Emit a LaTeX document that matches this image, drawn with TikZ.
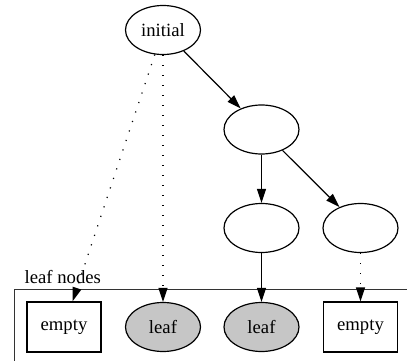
\documentclass[tikz,border=0pt]{standalone}
\usepackage{fontspec}
\setmainfont{Liberation Serif}
\usetikzlibrary{arrows.meta,shapes.geometric}
\begin{document}
\begin{tikzpicture}[x=1pt,y=-1pt,
  every node/.style={font=\fontsize{18.7}{22}\selectfont, line width=1.2pt, inner sep=0pt},
  oval/.style={draw, ellipse, minimum width=75pt, minimum height=49pt},
  leafoval/.style={oval, fill=lightgray!90!white},
  emptybox/.style={draw, rectangle, minimum width=74pt, minimum height=50pt},
  edge/.style={line width=1.2pt, -{Triangle[length=14pt,width=9pt]}},
  dotedge/.style={edge, dash pattern=on 1.2pt off 8.8pt},
  cluster/.style={line width=1.1pt, draw=black!80}
]
\useasboundingbox (0,0) rectangle (407,361);
\node[oval] (init) at (163,30) {initial};
\node[oval] (n2) at (261.5,129.5) {};
\node[oval] (n3) at (261.5,228) {};
\node[oval] (n4) at (360.5,228) {};
\node[emptybox] (e1) at (64,327) {empty};
\node[leafoval] (l1) at (163,327) {leaf};
\node[leafoval] (l2) at (261.5,327) {leaf};
\node[emptybox] (e2) at (360.5,327) {empty};
\coordinate (ctr) at (407,289.3);
\coordinate (ctl) at (14.3,289.3);
\coordinate (cbl) at (14.3,361);
\draw[cluster] (ctr) -- (ctl) -- (cbl);
\node[anchor=base west] (lbl) at (24,283.3) {leaf nodes};
\draw[edge] (init) -- (n2);
\draw[edge] (n2) -- (n3);
\draw[edge] (n2) -- (n4);
\draw[edge] (n3) -- (l2);
\draw[dotedge] (init) -- (e1);
\draw[dotedge] (init.south) -- (l1);
\draw[dotedge] (n4) -- (e2);
\end{tikzpicture}
\end{document}
